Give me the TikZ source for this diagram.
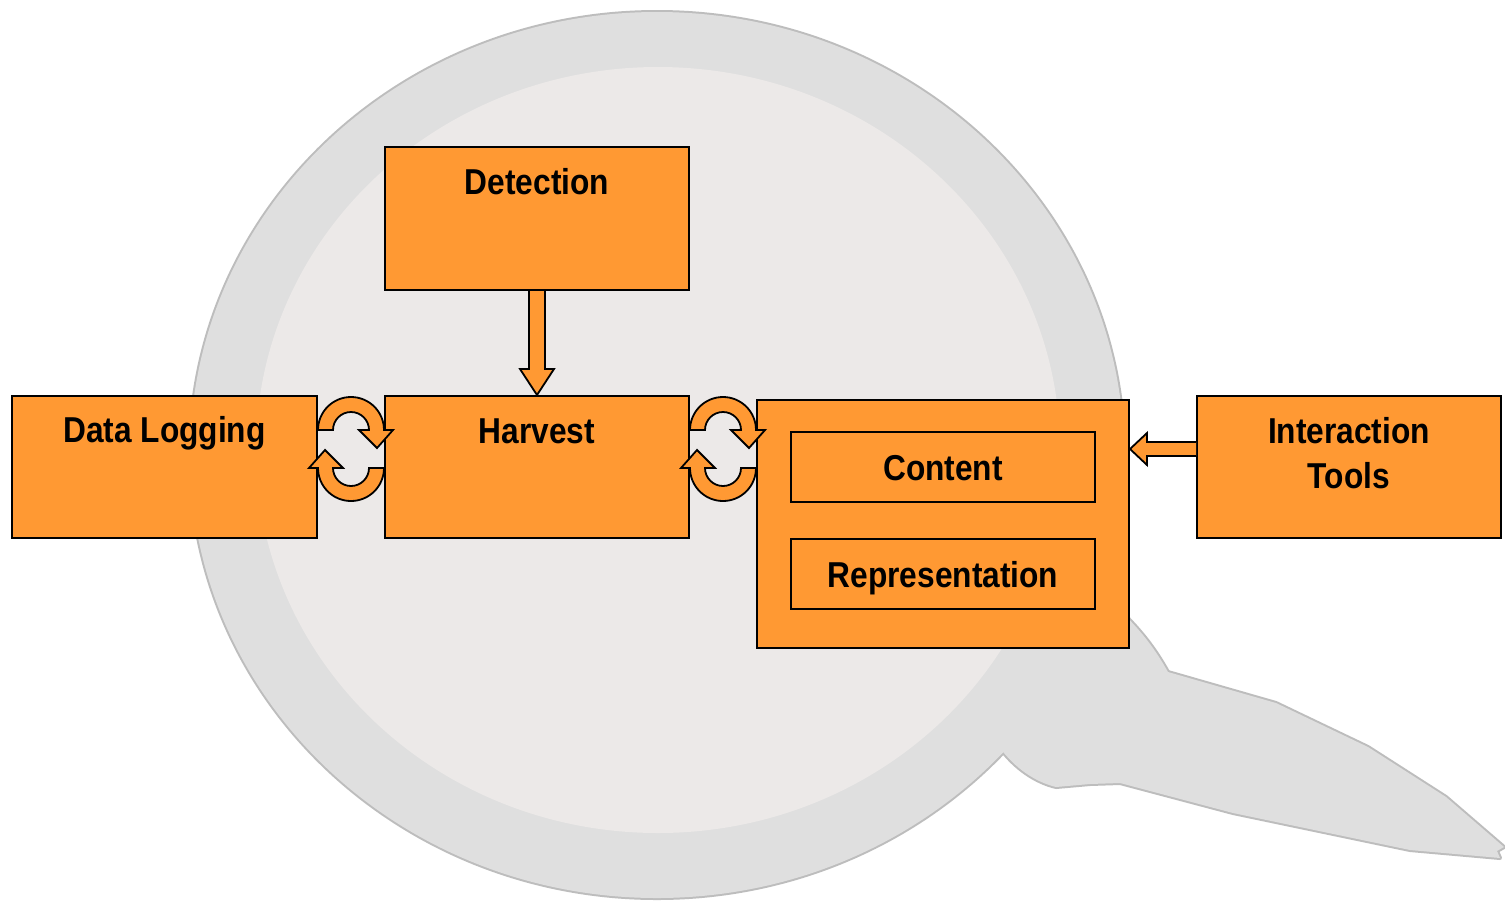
\documentclass[tikz,border=0pt]{standalone}
\usepackage{fontspec}
\setmainfont{Liberation Sans}[FakeStretch=0.88]
\usetikzlibrary{calc}
\definecolor{boxorange}{HTML}{FF9933}
\definecolor{ringgrey}{HTML}{DFDFDF}
\definecolor{rimgrey}{HTML}{BDBDBD}
\definecolor{lensfill}{HTML}{ECE9E8}
\begin{document}
\begin{tikzpicture}[x=0.5pt,y=-0.5pt,
  stagebox/.style={draw=black, line width=1pt, fill=boxorange, inner sep=0pt,
    minimum width=152pt, minimum height=71pt},
  boxtext/.style={font={\bfseries\fontsize{18}{22.5}\selectfont}, inner sep=0pt, align=center},
  blockarrow/.style={draw=black, line width=0.9pt, fill=boxorange, line join=miter},
  cyclepair/.pic={
    \draw[blockarrow] (-33,-19) arc[start angle=180,end angle=360,radius=33]
      -- (42,-19) -- (26,-1) -- (8,-19) -- (18,-19)
      arc[start angle=360,end angle=180,radius=18] -- cycle;
    \draw[blockarrow] (33,19) arc[start angle=0,end angle=180,radius=33]
      -- (-42,19) -- (-26,1) -- (-8,19) -- (-18,19)
      arc[start angle=180,end angle=0,radius=18] -- cycle;
  }]
\useasboundingbox[fill=white] (0,0) rectangle (1505,901);

% magnifying glass in the background: rim first, then fills on top
\def\handlepath{(1060,590) -- (1110,600) .. controls (1135,625) and (1150,640) .. (1168,672)
  -- (1276,703) -- (1368,747) -- (1446,797) -- (1504,847) -- (1497,851) -- (1500,858)
  -- (1410,850) -- (1233,813) -- (1120,783) -- (1090,784) -- (1056,787)
  .. controls (1035,782) and (1015,768) .. (1000,748) -- (950,700) -- cycle}
\draw[rimgrey, line width=2pt, line join=round] \handlepath;
\draw[rimgrey, line width=2pt] (657,455) ellipse[x radius=467, y radius=443];
\fill[ringgrey] \handlepath;
\fill[ringgrey] (657,455) ellipse[x radius=467, y radius=443];
\fill[lensfill] (658,450) ellipse[x radius=402, y radius=383];

% stages
\node[stagebox, minimum height=71.5pt] (det) at (537,218.5) {};
\node[stagebox, minimum width=152.5pt] (dl) at (164.5,467) {};
\node[stagebox] (hv) at (537,467) {};
\node[stagebox, minimum width=186pt, minimum height=124pt] (big) at (943,524) {};
\node[stagebox, minimum height=35pt] (con) at (943,467) {};
\node[stagebox, minimum height=35pt] (rep) at (943,574) {};
\node[stagebox] (it) at (1349,467) {};

\node[boxtext, anchor=base] (det-t) at ($(det.north)+(0,48)$) {Detection};
\node[boxtext, anchor=base] (dl-t) at ($(dl.north)+(0,47)$) {Data Logging};
\node[boxtext, anchor=base] (hv-t) at ($(hv.north)+(0,48)$) {Harvest};
\node[boxtext, anchor=base] (con-t) at ($(con.center)+(0,13)$) {Content};
\node[boxtext, anchor=base] (rep-t) at ($(rep.center)+(0,13)$) {Representation};
\node[boxtext, anchor=north] (it-t) at ($(it.north)+(0,22)$) {Interaction\\Tools};

% Detection feeds Harvest
\draw[blockarrow] ($(det.south)+(-8,0)$) -- ($(hv.north)+(-8,-26)$) -- ($(hv.north)+(-17,-26)$)
  -- (hv.north) -- ($(hv.north)+(17,-26)$) -- ($(hv.north)+(8,-26)$) -- ($(det.south)+(8,0)$);

% Interaction Tools act on the content block
\coordinate (tipL) at ($(big.east |- it.west)+(0,-18)$);
\draw[blockarrow] ($(it.west)+(0,-25)$) -- ($(tipL)+(17,-7)$) -- ($(tipL)+(17,-16)$)
  -- (tipL) -- ($(tipL)+(17,16)$) -- ($(tipL)+(17,7)$) -- ($(it.west)+(0,-11)$);

% two-way exchanges
\pic at ($(dl.east)!0.5!(hv.west)+(0,-18)$) {cyclepair};
\pic at ($(hv.east)!0.5!(hv.east -| big.west)+(0,-18)$) {cyclepair};
\end{tikzpicture}
\end{document}
